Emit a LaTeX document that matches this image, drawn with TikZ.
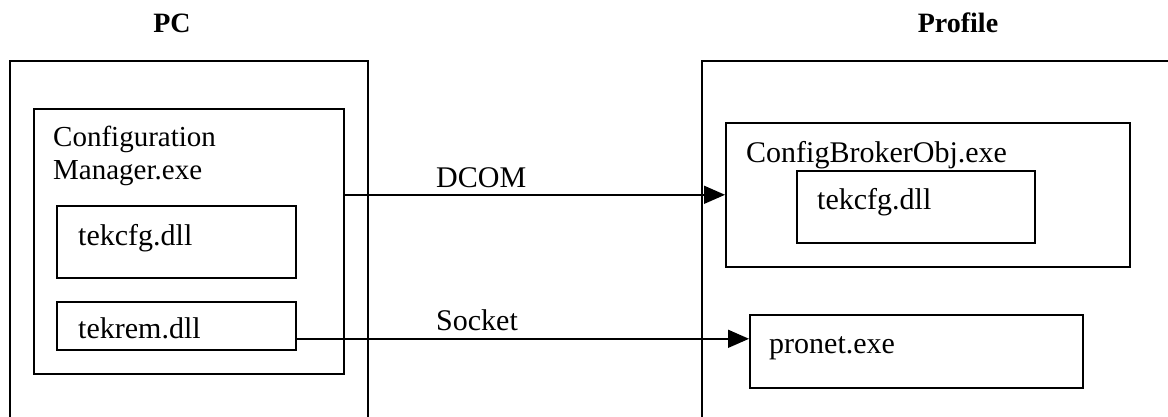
\documentclass[tikz,border=0pt]{standalone}
\usepackage{fontspec}
\setmainfont{Liberation Serif}
\usetikzlibrary{arrows.meta}

\begin{document}
\begin{tikzpicture}[x=1pt, y=-1pt,
    box/.style={draw, line width=1.6pt, inner sep=0pt, anchor=north west},
    txt/.style={inner sep=0pt, anchor=base west, font=\fontsize{30}{33}\selectfont},
    head/.style={inner sep=0pt, anchor=base, font=\fontsize{28}{32}\selectfont\bfseries},
    link/.style={line width=1.6pt, -{Triangle[length=21pt, width=18pt]}}]
  \useasboundingbox (0,0) rectangle (1168,417);
  \clip (0,0) rectangle (1168,417);

  % PC side
  \node[head] (pclabel) at (172,33) {PC};
  \node[box, minimum width=358pt, minimum height=380pt] (pc) at (9,60) {};
  \node[box, minimum width=310pt, minimum height=265pt] (cfgmgr) at (33,108) {};
  \node[txt, align=left, font=\fontsize{29}{33}\selectfont] (cfgname) at (53,179) {Configuration\\Manager.exe};
  \node[box, minimum width=239pt, minimum height=72pt] (pccfg) at (56,205) {};
  \node[txt] (pccfgname) at (78,245) {tekcfg.dll};
  \node[box, minimum width=239pt, minimum height=48pt] (pcrem) at (56,301) {};
  \node[txt] (pcremname) at (78,338) {tekrem.dll};

  % Profile side
  \node[head] (proflabel) at (958,33) {Profile};
  \node[box, minimum width=500pt, minimum height=380pt] (prof) at (701,60) {};
  \node[box, minimum width=404pt, minimum height=144pt] (broker) at (725,122) {};
  \node[txt] (brokername) at (746,163) {ConfigBrokerObj.exe};
  \node[box, minimum width=238pt, minimum height=72pt] (brokercfg) at (796,170) {};
  \node[txt] (brokercfgname) at (817,210) {tekcfg.dll};
  \node[box, minimum width=333pt, minimum height=73pt] (pronet) at (749,314) {};
  \node[txt] (pronetname) at (769,353) {pronet.exe};

  % links
  \node[txt] (dcomlabel) at (436,187) {DCOM};
  \draw[link] (cfgmgr.east |- broker.west) -- (broker.west);
  \node[txt] (socklabel) at (436,330) {Socket};
  \coordinate (sockout) at ([yshift=-13pt]pcrem.east);
  \draw[link] (sockout) -- (sockout -| pronet.west);
\end{tikzpicture}
\end{document}
